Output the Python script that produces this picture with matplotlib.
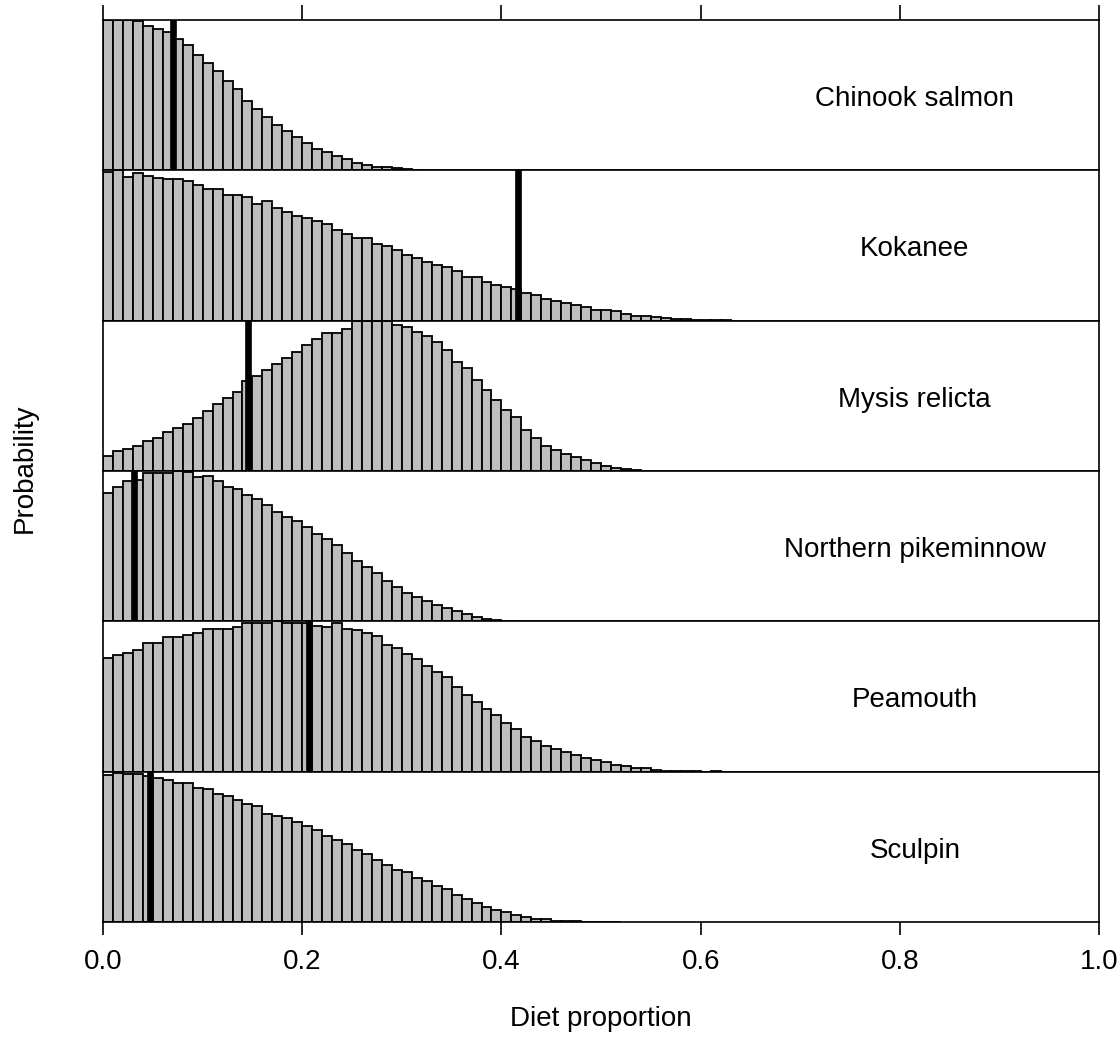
import numpy as np
import matplotlib
matplotlib.use("Agg")
import matplotlib.pyplot as plt

plt.rcParams['font.family'] = ['Liberation Sans', 'DejaVu Sans']

# Posterior diet proportions: histogram heights (scaled to panel height), bin width 0.01
bin_width = 0.01

species = ["Chinook salmon", "Kokanee", "Mysis relicta",
           "Northern pikeminnow", "Peamouth", "Sculpin"]

chinook = [1.0, 1.0, 1.0, 0.996, 0.96, 0.938, 0.922, 0.871, 0.833, 0.767,
           0.716, 0.66, 0.593, 0.54, 0.462, 0.407, 0.356, 0.304, 0.262, 0.222,
           0.182, 0.144, 0.122, 0.093, 0.076, 0.049, 0.036, 0.024, 0.022, 0.012,
           0.006, 0.003]

kokanee = [0.99, 1.0, 0.956, 0.985, 0.96, 0.951, 0.94, 0.94, 0.927, 0.9,
           0.874, 0.874, 0.834, 0.834, 0.823, 0.773, 0.799, 0.746, 0.72, 0.695,
           0.68, 0.664, 0.64, 0.603, 0.574, 0.547, 0.547, 0.51, 0.497, 0.47,
           0.437, 0.419, 0.393, 0.371, 0.355, 0.327, 0.287, 0.287, 0.26, 0.238,
           0.221, 0.212, 0.183, 0.168, 0.146, 0.128, 0.117, 0.102, 0.088, 0.073,
           0.073, 0.062, 0.046, 0.033, 0.033, 0.022, 0.015, 0.01, 0.008, 0.005,
           0.003, 0.002, 0.001]

mysis = [0.102, 0.133, 0.144, 0.169, 0.196, 0.222, 0.262, 0.284, 0.313, 0.351,
         0.396, 0.444, 0.484, 0.524, 0.596, 0.633, 0.673, 0.711, 0.751, 0.791,
         0.84, 0.88, 0.918, 0.918, 0.947, 1.0, 1.0, 1.0, 0.995, 0.973,
         0.96, 0.924, 0.896, 0.858, 0.807, 0.724, 0.684, 0.607, 0.54, 0.473,
         0.407, 0.356, 0.273, 0.222, 0.169, 0.14, 0.115, 0.09, 0.07, 0.05,
         0.035, 0.02, 0.01, 0.004]

pikeminnow = [0.851, 0.891, 0.933, 0.94, 0.984, 0.984, 0.984, 1.0, 0.991, 0.958,
              0.969, 0.933, 0.891, 0.88, 0.84, 0.813, 0.773, 0.729, 0.691, 0.667,
              0.629, 0.584, 0.547, 0.507, 0.456, 0.402, 0.362, 0.324, 0.271, 0.229,
              0.191, 0.162, 0.135, 0.11, 0.09, 0.07, 0.05, 0.03, 0.013, 0.006,
              0.003, 0.002]

peamouth = [0.757, 0.779, 0.792, 0.812, 0.857, 0.857, 0.896, 0.896, 0.912, 0.925,
            0.947, 0.947, 0.947, 0.962, 0.99, 0.99, 0.99, 1.0, 0.99, 0.99,
            0.99, 0.967, 0.962, 0.99, 0.951, 0.94, 0.925, 0.901, 0.845, 0.823,
            0.784, 0.746, 0.704, 0.664, 0.627, 0.561, 0.51, 0.466, 0.415, 0.377,
            0.322, 0.283, 0.23, 0.205, 0.168, 0.152, 0.13, 0.113, 0.091, 0.075,
            0.064, 0.046, 0.035, 0.022, 0.022, 0.009, 0.006, 0.004, 0.003, 0.002,
            0.0, 0.002]

sculpin = [0.98, 0.991, 0.984, 0.984, 0.969, 0.958, 0.942, 0.924, 0.924, 0.891,
           0.887, 0.851, 0.836, 0.809, 0.784, 0.769, 0.718, 0.707, 0.691, 0.662,
           0.636, 0.609, 0.573, 0.547, 0.518, 0.48, 0.453, 0.413, 0.376, 0.347,
           0.33, 0.29, 0.273, 0.242, 0.22, 0.18, 0.151, 0.129, 0.098, 0.08,
           0.064, 0.047, 0.031, 0.018, 0.018, 0.007, 0.005, 0.004, 0.003, 0.002,
           0.0, 0.002]

# Reference proportion for each prey, shown as a thick vertical bar
reference = [0.0706, 0.417, 0.146, 0.031, 0.207, 0.047]

x_ticks = [0.0, 0.2, 0.4, 0.6, 0.8, 1.0]
x_ticklabels = ["0.0", "0.2", "0.4", "0.6", "0.8", "1.0"]

heights_all = [chinook, kokanee, mysis, pikeminnow, peamouth, sculpin]

fig = plt.figure(figsize=(11.2, 10.4), dpi=100)
axes = fig.subplots(6, 1, sharex=True, gridspec_kw=dict(hspace=0))
fig.subplots_adjust(left=0.092, right=0.9813, top=0.9808, bottom=0.1135)

FS = 20
for i, (ax, name, h, ref) in enumerate(zip(axes, species, heights_all, reference)):
    h = np.asarray(h)
    left = np.arange(len(h)) * bin_width
    ax.bar(left, h, width=bin_width, align='edge', color='#BEBEBE',
           edgecolor='black', linewidth=1.3, zorder=2)
    ax.axvline(ref, color='black', linewidth=4.8, zorder=3)
    ax.set_xlim(0, 1)
    ax.set_ylim(0, 1)
    ax.set_yticks([])
    for sp in ax.spines.values():
        sp.set_linewidth(1.2)
        sp.set_zorder(4)
    ax.text(0.815, 0.475, name, fontsize=FS, ha='center', va='center')
    if i == 0:
        ax.xaxis.set_ticks_position('top')
        ax.tick_params(axis='x', which='both', direction='out', length=11,
                       width=1.2, labeltop=False, labelbottom=False, top=True,
                       bottom=False)
    elif i == len(axes) - 1:
        ax.tick_params(axis='x', which='both', direction='out', length=9.5,
                       width=1.2, labelbottom=True, labelsize=FS, pad=10,
                       bottom=True, top=False)
    else:
        ax.tick_params(axis='x', which='both', bottom=False, top=False,
                       labelbottom=False, labeltop=False)

axes[-1].set_xticks(x_ticks)
axes[-1].set_xticklabels(x_ticklabels)
axes[-1].set_xlabel("Diet proportion", fontsize=FS, labelpad=22)
fig.text(0.022, 0.55, "Probability", rotation=90, fontsize=FS,
         ha='center', va='center')

fig.savefig("out.png", dpi=100)
